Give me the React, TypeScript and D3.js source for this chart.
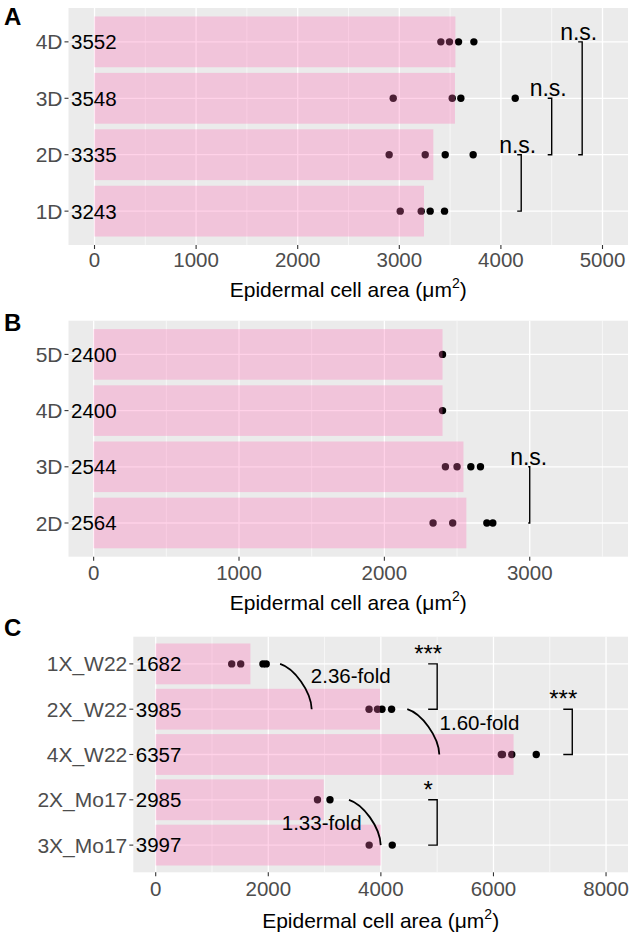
import React from "react";
import * as d3 from "d3";

const W = 633;
const H = 938;

// ---------- Panel A data (categories bottom -> top) ----------
const catsA = ["1D", "2D", "3D", "4D"];
const meansA = [3243, 3335, 3548, 3552];
const ptsA = [
  [3009, 3216, 3304, 3445],
  [2900, 3255, 3452, 3727],
  [2940, 3521, 3606, 4141],
  [3409, 3494, 3583, 3734],
];
const ticksA = [0, 1000, 2000, 3000, 4000, 5000];
const minorA = [500, 1500, 2500, 3500, 4500];
const sigA = [
  { from: "1D", to: "2D", x: 4200, label: "n.s." },
  { from: "2D", to: "3D", x: 4500, label: "n.s." },
  { from: "2D", to: "4D", x: 4800, label: "n.s." },
];

// ---------- Panel B data ----------
const catsB = ["2D", "3D", "4D", "5D"];
const meansB = [2564, 2544, 2400, 2400];
const ptsB = [
  [2335, 2470, 2705, 2746],
  [2420, 2500, 2595, 2661],
  [2400],
  [2400],
];
const ticksB = [0, 1000, 2000, 3000];
const minorB = [500, 1500, 2500, 3500];
const sigB = [{ from: "2D", to: "3D", x: 3000, label: "n.s." }];

// ---------- Panel C data ----------
const catsC = ["3X_Mo17", "2X_Mo17", "4X_W22", "2X_W22", "1X_W22"];
const meansC = [3997, 2985, 6357, 3985, 1682];
const ptsC = [
  [3792, 4202],
  [2874, 3096],
  [6140, 6160, 6325, 6760],
  [3790, 3940, 4020, 4190],
  [1350, 1510, 1905, 1963],
];
const ticksC = [0, 2000, 4000, 6000, 8000];
const minorC = [1000, 3000, 5000, 7000];
const sigC = [
  { from: "2X_W22", to: "1X_W22", x: 5000, label: "***" },
  { from: "4X_W22", to: "2X_W22", x: 7400, label: "***" },
  { from: "3X_Mo17", to: "2X_Mo17", x: 5000, label: "*" },
];
const curvesC = [
  { from: "1X_W22", to: "2X_W22", x1: 2210, x2: 2771 },
  { from: "2X_W22", to: "4X_W22", x1: 4469, x2: 5038 },
  { from: "2X_Mo17", to: "3X_Mo17", x1: 3433, x2: 3997 },
];
const foldsC = [
  { label: "2.36-fold", x: 3465, pos: 4.735 },
  { label: "1.60-fold", x: 5751, pos: 3.7 },
  { label: "1.33-fold", x: 2948, pos: 1.486 },
];

const axisTitle = "Epidermal cell area (\u03bcm";

const FONT = "'Liberation Sans', Arial, Helvetica, sans-serif";

type Sig = { from: string; to: string; x: number; label: string };
type Curve = { from: string; to: string; x1: number; x2: number };
type Fold = { label: string; x: number; pos: number };

type Cfg = {
  letter: string;
  letterY: number;
  left: number;
  right: number;
  top: number;
  bottom: number;
  domain: [number, number];
  bracketTick: number;
  sigOffset: number;
  tickLabelDy: number;
  titleDy: number;
};

function Panel(props: {
  cfg: Cfg;
  cats: string[];
  means: number[];
  pts: number[][];
  ticks: number[];
  minor: number[];
  sigs: Sig[];
  curves?: Curve[];
  folds?: Fold[];
}) {
  const { cfg, cats, means, pts, ticks, minor, sigs, curves = [], folds = [] } = props;
  const x = d3.scaleLinear().domain(cfg.domain).range([cfg.left, cfg.right]);
  const y = d3
    .scaleLinear()
    .domain([0.4, cats.length + 0.6])
    .range([cfg.bottom, cfg.top]);
  const pos = (c: string) => cats.indexOf(c) + 1;

  const curvePath = (c: Curve) => {
    const x1 = x(c.x1);
    const y1 = y(pos(c.from));
    const x2 = x(c.x2);
    const y2 = y(pos(c.to));
    const dx = x2 - x1;
    const dy = y2 - y1;
    const p = d3.path();
    p.moveTo(x1, y1);
    p.bezierCurveTo(x1 + 0.45 * dx, y1 + 0.1 * dy, x2 - 0.02 * dx, y2 - 0.4 * dy, x2, y2);
    return p.toString();
  };

  return (
    <g>
      <text x={4} y={cfg.letterY} fontSize={24} fontWeight="bold" fill="#000">
        {cfg.letter}
      </text>
      <rect
        x={cfg.left}
        y={cfg.top}
        width={cfg.right - cfg.left}
        height={cfg.bottom - cfg.top}
        fill="#EBEBEB"
      />
      {minor.map((t) => (
        <line key={"mi" + t} x1={x(t)} x2={x(t)} y1={cfg.top} y2={cfg.bottom} stroke="#fff" strokeWidth={0.6} />
      ))}
      {ticks.map((t) => (
        <line key={"ma" + t} x1={x(t)} x2={x(t)} y1={cfg.top} y2={cfg.bottom} stroke="#fff" strokeWidth={1.3} />
      ))}
      {cats.map((c) => (
        <line key={"hy" + c} x1={cfg.left} x2={cfg.right} y1={y(pos(c))} y2={y(pos(c))} stroke="#fff" strokeWidth={1.3} />
      ))}
      {pts.map((arr, i) =>
        arr.map((v, j) => (
          <circle key={"p" + i + "_" + j} cx={x(v)} cy={y(i + 1)} r={3.7} fill="#000" />
        ))
      )}
      {means.map((m, i) => (
        <rect
          key={"b" + i}
          x={x(0)}
          y={y(i + 1 + 0.45)}
          width={x(m) - x(0)}
          height={y(i + 1 - 0.45) - y(i + 1 + 0.45)}
          fill="#FF69B4"
          fillOpacity={0.3}
        />
      ))}
      {means.map((m, i) => (
        <text key={"v" + i} x={cfg.left + 2.5} y={y(i + 1)} dy="0.36em" fontSize={20.5} fill="#000">
          {m}
        </text>
      ))}
      {/* y axis */}
      {cats.map((c) => (
        <g key={"ya" + c}>
          <line x1={cfg.left - 4} x2={cfg.left} y1={y(pos(c))} y2={y(pos(c))} stroke="#333" strokeWidth={1.1} />
          <text x={cfg.left - 6} y={y(pos(c))} dy="0.36em" textAnchor="end" fontSize={21} fill="#4D4D4D">
            {c}
          </text>
        </g>
      ))}
      {/* x axis */}
      {ticks.map((t) => (
        <g key={"xa" + t}>
          <line x1={x(t)} x2={x(t)} y1={cfg.bottom} y2={cfg.bottom + 4} stroke="#333" strokeWidth={1.1} />
          <text x={x(t)} y={cfg.bottom + cfg.tickLabelDy} textAnchor="middle" fontSize={20.5} fill="#4D4D4D">
            {t}
          </text>
        </g>
      ))}
      <text
        x={(cfg.left + cfg.right) / 2}
        y={cfg.bottom + cfg.titleDy}
        textAnchor="middle"
        fontSize={21}
        fill="#000"
      >
        {axisTitle}
        <tspan fontSize={14} dy={-9}>2</tspan>
        <tspan dy={9}>)</tspan>
      </text>
      {/* significance brackets */}
      {sigs.map((s, i) => {
        const xb = x(s.x);
        const ya = y(pos(s.from));
        const yb = y(pos(s.to));
        const yTop = Math.min(ya, yb);
        const yBot = Math.max(ya, yb);
        return (
          <g key={"s" + i}>
            <path
              d={`M${xb - cfg.bracketTick},${yTop}H${xb}V${yBot}H${xb - cfg.bracketTick}`}
              fill="none"
              stroke="#000"
              strokeWidth={1.4}
            />
            <text x={xb - cfg.sigOffset} y={yTop - 2} textAnchor="middle" fontSize={s.label === "n.s." ? 23 : 24} fill="#000">
              {s.label}
            </text>
          </g>
        );
      })}
      {curves.map((c, i) => (
        <path key={"c" + i} d={curvePath(c)} fill="none" stroke="#000" strokeWidth={1.8} />
      ))}
      {folds.map((f, i) => (
        <text key={"f" + i} x={x(f.x)} y={y(f.pos)} dy="0.36em" textAnchor="middle" fontSize={20.5} fill="#000">
          {f.label}
        </text>
      ))}
    </g>
  );
}

const cfgA: Cfg = {
  letter: "A",
  letterY: 25,
  left: 68.5,
  right: 628,
  top: 8,
  bottom: 245,
  domain: [-256, 5251],
  bracketTick: 4,
  sigOffset: 3.5,
  tickLabelDy: 22,
  titleDy: 52,
};
const cfgB: Cfg = {
  letter: "B",
  letterY: 331,
  left: 68.5,
  right: 628,
  top: 320.7,
  bottom: 556.7,
  domain: [-173, 3676],
  bracketTick: 1.5,
  sigOffset: 1,
  tickLabelDy: 23,
  titleDy: 53,
};
const cfgC: Cfg = {
  letter: "C",
  letterY: 636,
  left: 133.3,
  right: 628,
  top: 636.7,
  bottom: 872.3,
  domain: [-398, 8390],
  bracketTick: 9,
  sigOffset: 9,
  tickLabelDy: 24,
  titleDy: 56,
};

export default function App() {
  return (
    <svg
      width={W}
      height={H}
      viewBox={`0 0 ${W} ${H}`}
      style={{ position: "absolute", left: 0, top: 0, background: "#fff", fontFamily: FONT }}
    >
      <rect x={0} y={0} width={W} height={H} fill="#fff" />
      <Panel cfg={cfgA} cats={catsA} means={meansA} pts={ptsA} ticks={ticksA} minor={minorA} sigs={sigA} />
      <Panel cfg={cfgB} cats={catsB} means={meansB} pts={ptsB} ticks={ticksB} minor={minorB} sigs={sigB} />
      <Panel
        cfg={cfgC}
        cats={catsC}
        means={meansC}
        pts={ptsC}
        ticks={ticksC}
        minor={minorC}
        sigs={sigC}
        curves={curvesC}
        folds={foldsC}
      />
    </svg>
  );
}
